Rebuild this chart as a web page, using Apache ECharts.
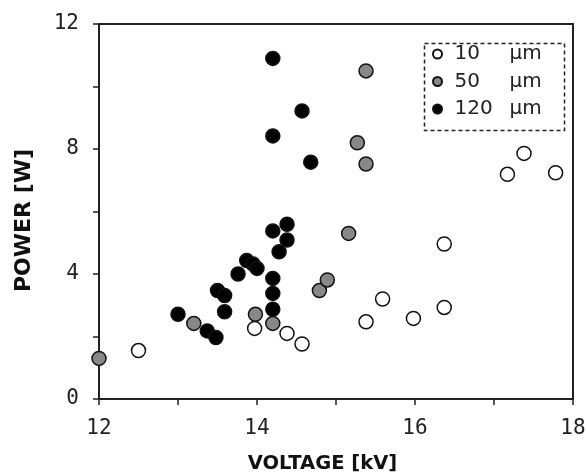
<!DOCTYPE html>
<html><head><meta charset="utf-8">
<script src="https://cdn.jsdelivr.net/npm/echarts@6/dist/echarts.min.js"></script>
<style>html,body{margin:0;padding:0;background:#fff}#c{width:587px;height:474px}</style>
</head><body><div id="c"></div>
<script>
const seriesNames = ['10', '50', '120'];
const unit = 'µm';
const xTickLabels = [12, 14, 16, 18];
const yTickLabels = [0, 4, 8, 12];
const open10 = [[12.5,1.55],[13.97,2.26],[14.38,2.1],[14.57,1.76],[15.38,2.47],[15.59,3.2],[15.98,2.58],[16.37,2.93],[16.37,4.96],[17.17,7.19],[17.38,7.86],[17.78,7.24]];
const gray50 = [[12.0,1.3],[13.2,2.42],[13.98,2.71],[14.2,2.42],[14.79,3.47],[14.89,3.81],[15.16,5.3],[15.27,8.2],[15.38,7.52],[15.38,10.5]];
const black120 = [[13.0,2.71],[13.37,2.18],[13.48,1.97],[13.5,3.47],[13.59,3.31],[13.59,2.79],[13.76,4.0],[13.87,4.43],[13.95,4.32],[14.0,4.18],[14.2,5.38],[14.38,5.59],[14.38,5.09],[14.28,4.71],[14.2,3.86],[14.2,3.38],[14.2,2.87],[14.2,8.42],[14.2,10.9],[14.57,9.22],[14.68,7.58]];

const chart = echarts.init(document.getElementById('c'));
const font = 'DejaVu Sans';
const mono = 'DejaVu Sans Mono';
function ser(name, data, fill) {
  return {
    name: name, type: 'scatter', data: data, symbol: 'circle', symbolSize: 14,
    itemStyle: { color: fill, borderColor: '#111', borderWidth: 1.5, opacity: 1 },
    emphasis: { disabled: true }
  };
}
chart.setOption({
  animation: false,
  backgroundColor: '#fff',
  grid: { left: 99, right: 14, top: 24, bottom: 75, containLabel: false, outerBoundsMode: 'none',
    show: true, borderColor: '#222', borderWidth: 2, backgroundColor: 'transparent' },
  xAxis: {
    type: 'value', min: 12, max: 18, interval: 1,
    name: 'VOLTAGE [kV]', nameLocation: 'middle', nameGap: 55,
    nameTextStyle: { fontFamily: font, fontWeight: 'bold', fontSize: 19.5, color: '#111', padding: [0, 27, 0, 0] },
    axisLine: { show: true, onZero: false, lineStyle: { color: '#222', width: 2 } },
    axisTick: { show: true, inside: false, length: 6, lineStyle: { color: '#222', width: 1.5 } },
    splitLine: { show: false },
    axisLabel: { fontFamily: mono, fontSize: 21, color: '#222', margin: 19,
      formatter: v => xTickLabels.includes(v) ? String(v) : '' }
  },
  yAxis: {
    type: 'value', min: 0, max: 12, interval: 2,
    name: 'POWER [W]', nameLocation: 'middle', nameGap: 64, nameRotate: 90,
    nameTextStyle: { fontFamily: font, fontWeight: 'bold', fontSize: 22, color: '#111', padding: [0, 18, 0, 0] },
    axisLine: { show: true, onZero: false, lineStyle: { color: '#222', width: 2 } },
    axisTick: { show: true, inside: false, length: 6, lineStyle: { color: '#222', width: 1.5 } },
    splitLine: { show: false },
    axisLabel: { fontFamily: mono, fontSize: 21, color: '#222', margin: 20,
      formatter: v => yTickLabels.includes(v) ? String(v) : '' }
  },
  legend: {
    orient: 'vertical', left: 432, top: 44, itemGap: 7.5, itemWidth: 24, itemHeight: 9,
    padding: 0, selectedMode: false,
    data: seriesNames.map(n => ({ name: n, icon: 'circle' })),
    formatter: n => '{a|' + n + '}{b|' + unit + '}',
    textStyle: { rich: {
      a: { fontFamily: font, fontSize: 20, lineHeight: 21, color: '#222', width: 55 },
      b: { fontFamily: font, fontSize: 20, lineHeight: 21, color: '#222' }
    } }
  },
  graphic: [{
    type: 'rect', left: 422, top: 41, shape: { width: 140, height: 87 },
    style: { fill: 'none', stroke: '#222', lineWidth: 1.5, lineDash: [4, 3] }, z: 100
  }],
  series: [
    ser(seriesNames[0], open10, '#ffffff'),
    ser(seriesNames[1], gray50, '#888888'),
    ser(seriesNames[2], black120, '#000000')
  ]
});
</script></body></html>
